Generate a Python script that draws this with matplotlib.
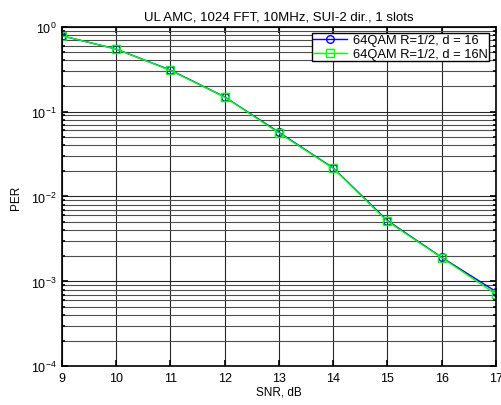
import numpy as np
import matplotlib.pyplot as plt
from matplotlib.ticker import LogLocator, NullFormatter

plt.rcParams['font.family'] = ['Liberation Sans', 'DejaVu Sans']

# SNR points and packet error rates
snr = [9, 10, 11, 12, 13, 14, 15, 16, 17]
per_d16 = [0.78, 0.545, 0.308, 0.149, 0.057, 0.0217, 0.0052, 0.00192, 0.00076]
per_d16n = [0.78, 0.545, 0.305, 0.148, 0.056, 0.0215, 0.0051, 0.00190, 0.00071]

fig = plt.figure(figsize=(5.01, 4.06), dpi=100)
ax = fig.add_axes([0.1238, 0.0953, 0.866, 0.8365])

ax.semilogy(snr, per_d16, '-o', color='#0000ff', lw=1.0, ms=5.5,
            mfc='none', mec='#0000ff', mew=1.0, label='64QAM R=1/2, d = 16')
ax.semilogy(snr, per_d16n, '-s', color='#00ff00', lw=1.0, ms=5.5,
            mfc='none', mec='#00ff00', mew=1.0, label='64QAM R=1/2, d = 16N')

ax.set_xlim(9, 17)
ax.set_ylim(1e-4, 1)
ax.set_xticks(snr)
ax.yaxis.set_major_locator(LogLocator(base=10, numticks=10))
ax.yaxis.set_minor_locator(LogLocator(base=10, subs=np.arange(2, 10), numticks=10))
ax.yaxis.set_minor_formatter(NullFormatter())

ax.grid(True, which='major', color='0.15', linestyle='-', linewidth=0.8)
ax.grid(True, which='minor', axis='y', color='0.3', linestyle='-', linewidth=0.8)

ax.tick_params(which='both', direction='in', top=True, right=True, labelsize=9)
ax.tick_params(which='major', length=4, width=1.2, pad=4)
ax.tick_params(which='minor', length=2.5, width=1.2)
for sp in ax.spines.values():
    sp.set_linewidth(1.2)

ax.set_xlabel('SNR, dB', fontsize=8.5, labelpad=1)
ax.set_ylabel('PER', fontsize=8.5, labelpad=6)
ax.set_title('UL AMC, 1024 FFT, 10MHz, SUI-2 dir., 1 slots', fontsize=9.5, pad=5)

leg = ax.legend(loc='upper right', fontsize=9.3, fancybox=False, framealpha=1,
                edgecolor='black', borderpad=0.1, handlelength=2.6,
                handletextpad=0.5, labelspacing=0.12, borderaxespad=0.5)
leg.get_frame().set_linewidth(1.0)

fig.savefig('out.png', dpi=100)
